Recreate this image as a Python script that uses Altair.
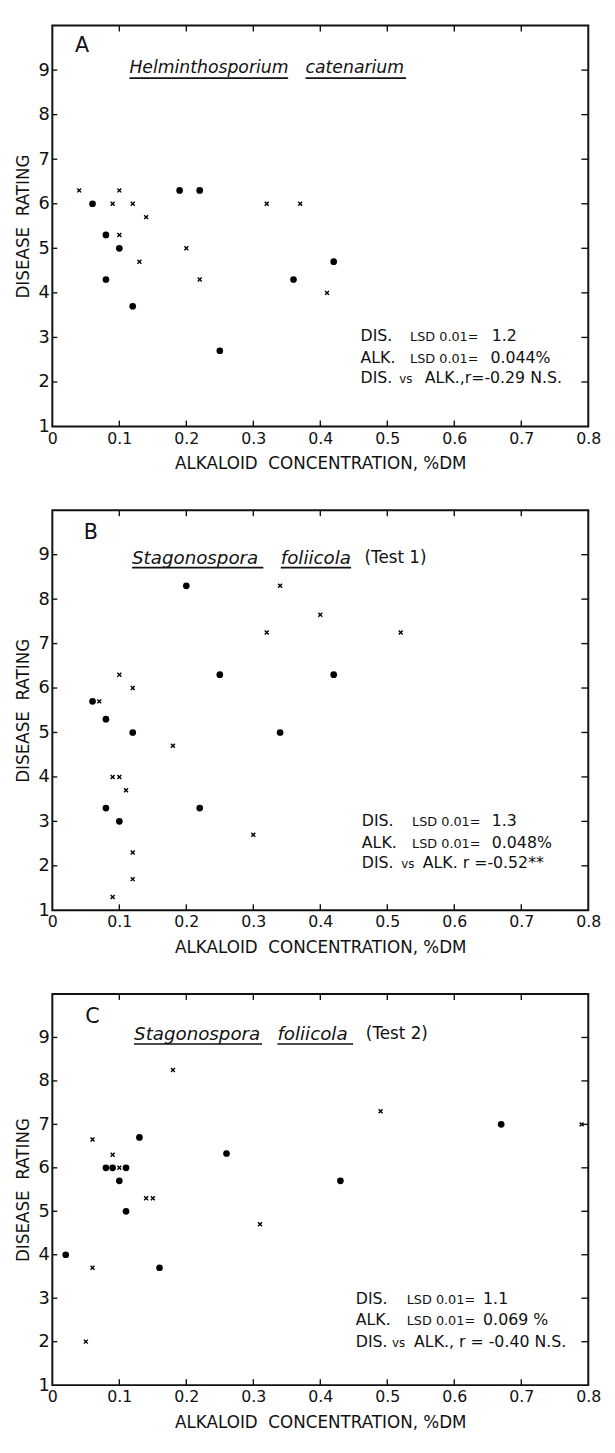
import altair as alt
import pandas as pd

FONT = "DejaVu Sans"
INK = "#111111"

# ---------------- data ----------------
X_LABELS = [0, 0.1, 0.2, 0.3, 0.4, 0.5, 0.6, 0.7, 0.8]
Y_LABELS = [1, 2, 3, 4, 5, 6, 7, 8, 9]
X_INNER_TICKS = [0.1, 0.2, 0.3, 0.4, 0.5, 0.6, 0.7]
Y_INNER_TICKS = [2, 3, 4, 5, 6, 7, 8, 9]

# Panel A  (Helminthosporium catenarium)
A_DOT_X = [0.06, 0.08, 0.10, 0.08, 0.12, 0.19, 0.22, 0.25, 0.36, 0.42]
A_DOT_Y = [6.0, 5.3, 5.0, 4.3, 3.7, 6.3, 6.3, 2.7, 4.3, 4.7]
A_CROSS_X = [0.04, 0.10, 0.09, 0.12, 0.14, 0.10, 0.20, 0.13, 0.22, 0.32, 0.37, 0.41]
A_CROSS_Y = [6.3, 6.3, 6.0, 6.0, 5.7, 5.3, 5.0, 4.7, 4.3, 6.0, 6.0, 4.0]

# Panel B  (Stagonospora foliicola, Test 1)
B_DOT_X = [0.20, 0.25, 0.42, 0.06, 0.08, 0.12, 0.34, 0.08, 0.10, 0.22]
B_DOT_Y = [8.3, 6.3, 6.3, 5.7, 5.3, 5.0, 5.0, 3.3, 3.0, 3.3]
B_CROSS_X = [0.34, 0.32, 0.40, 0.52, 0.10, 0.12, 0.07, 0.18, 0.09, 0.10, 0.11, 0.30, 0.12, 0.12, 0.09]
B_CROSS_Y = [8.3, 7.25, 7.65, 7.25, 6.3, 6.0, 5.7, 4.7, 4.0, 4.0, 3.7, 2.7, 2.3, 1.7, 1.3]

# Panel C  (Stagonospora foliicola, Test 2)
C_DOT_X = [0.02, 0.08, 0.09, 0.11, 0.10, 0.11, 0.13, 0.16, 0.26, 0.43, 0.67]
C_DOT_Y = [4.0, 6.0, 6.0, 6.0, 5.7, 5.0, 6.7, 3.7, 6.33, 5.7, 7.0]
C_CROSS_X = [0.18, 0.06, 0.09, 0.10, 0.14, 0.15, 0.31, 0.06, 0.05, 0.49, 0.79]
C_CROSS_Y = [8.25, 6.65, 6.3, 6.0, 5.3, 5.3, 4.7, 3.7, 2.0, 7.3, 7.0]

# statistics lines: (text, size-class) segments per line
A_STATS = [[("DIS.", "L"), ("LSD 0.01=", "S"), ("1.2", "L")],
           [("ALK.", "L"), ("LSD 0.01=", "S"), ("0.044%", "L")],
           [("DIS.", "L"), ("vs", "XS"), ("ALK.,r=-0.29 N.S.", "L")]]
B_STATS = [[("DIS.", "L"), ("LSD 0.01=", "S"), ("1.3", "L")],
           [("ALK.", "L"), ("LSD 0.01=", "S"), ("0.048%", "L")],
           [("DIS.", "L"), ("vs", "XS"), ("ALK. r =-0.52**", "L")]]
C_STATS = [[("DIS.", "L"), ("LSD 0.01=", "S"), ("1.1", "L")],
           [("ALK.", "L"), ("LSD 0.01=", "S"), ("0.069 %", "L")],
           [("DIS.", "L"), ("vs", "XS"), ("ALK., r = -0.40 N.S.", "L")]]

X_TITLE = "ALKALOID\u00a0\u00a0CONCENTRATION, %DM"
Y_TITLE = "DISEASE\u00a0\u00a0RATING"

# ---------------- encodings ----------------
XS = alt.Scale(domain=[0, 0.8], nice=False, zero=False)
YS = alt.Scale(domain=[1, 10], nice=False, zero=False)

XAX = alt.Axis(values=X_LABELS, labelExpr="datum.value == 0 ? '0' : format(datum.value, '.1f')",
               ticks=False, domain=False, grid=False, labelPadding=4, labelFontSize=16,
               labelFont=FONT, labelColor=INK, title=X_TITLE, titleFont=FONT, titleFontSize=17,
               titleFontWeight="normal", titleColor=INK, titlePadding=10, labelFlush=False)
YAX = alt.Axis(values=Y_LABELS, format="d", ticks=False, domain=False, grid=False,
               labelPadding=3, labelFontSize=18, labelFont=FONT, labelColor=INK,
               title=Y_TITLE, titleFont=FONT, titleFontSize=17, titleFontWeight="normal",
               titleColor=INK, titlePadding=6, labelFlush=False)

SIZES = {"L": 16, "S": 13, "XS": 12}


def X():
    return alt.X("x:Q", scale=XS, axis=XAX)


def Y():
    return alt.Y("y:Q", scale=YS, axis=YAX)


def text_layer(x, y, t, size, style="normal", baseline="middle"):
    return alt.Chart(pd.DataFrame({"x": [x], "y": [y], "t": [t]})).mark_text(
        align="left", baseline=baseline, font=FONT, fontSize=size, color=INK,
        fontStyle=style).encode(x=X(), y=Y(), text="t:N")


def panel(dot_x, dot_y, cross_x, cross_y, letter, letter_pos, words,
          stats, stats_x, stats_y, h):
    W = 544
    dots = alt.Chart(pd.DataFrame({"x": dot_x, "y": dot_y})).mark_circle(
        size=46, color="black", opacity=1).encode(x=X(), y=Y())
    crosses = alt.Chart(pd.DataFrame({"x": cross_x, "y": cross_y})).mark_point(
        shape="M-1,-1L1,1M-1,1L1,-1", size=16, strokeWidth=1.4, color="black",
        filled=False, opacity=1).encode(x=X(), y=Y())

    xt = pd.DataFrame({"x": X_INNER_TICKS})
    yt = pd.DataFrame({"y": Y_INNER_TICKS})
    tick_b = alt.Chart(xt).mark_rule(color=INK, strokeWidth=1.4).encode(
        x=X(), y=alt.value(h), y2=alt.value(h - 6))
    tick_t = alt.Chart(xt).mark_rule(color=INK, strokeWidth=1.4).encode(
        x=X(), y=alt.value(0), y2=alt.value(6))
    tick_l = alt.Chart(yt).mark_rule(color=INK, strokeWidth=1.4).encode(
        y=Y(), x=alt.value(0), x2=alt.value(5))
    tick_r = alt.Chart(yt).mark_rule(color=INK, strokeWidth=1.4).encode(
        y=Y(), x=alt.value(W), x2=alt.value(W - 7))

    layers = [tick_b, tick_t, tick_l, tick_r, dots, crosses,
              text_layer(letter_pos[0], letter_pos[1], letter, 21)]

    for (txt, x0, x1, yv, italic, fs) in words:
        layers.append(text_layer(x0, yv, txt, fs, "italic" if italic else "normal"))
        if italic:
            layers.append(alt.Chart(pd.DataFrame({"x": [x0], "x2": [x1], "y": [yv - 0.22]})).mark_rule(
                color=INK, strokeWidth=1.6).encode(x=X(), x2="x2:Q", y=Y()))

    for line, xs, yb in zip(stats, stats_x, stats_y):
        for (seg, cls), xv in zip(line, xs):
            layers.append(text_layer(xv, yb, seg, SIZES[cls], baseline="alphabetic"))
    return alt.layer(*layers).properties(width=W, height=h)


pA = panel(A_DOT_X, A_DOT_Y, A_CROSS_X, A_CROSS_Y, "A", (0.034, 9.53),
           [("Helminthosporium", 0.115, 0.352, 9.04, True, 17.5),
            ("catenarium", 0.378, 0.528, 9.04, True, 17.5)],
           A_STATS,
           [[0.460, 0.534, 0.656], [0.460, 0.534, 0.654], [0.460, 0.518, 0.556]],
           [2.91, 2.42, 1.98], 407)
pB = panel(B_DOT_X, B_DOT_Y, B_CROSS_X, B_CROSS_Y, "B", (0.047, 9.49),
           [("Stagonospora", 0.119, 0.315, 8.93, True, 18.5),
            ("foliicola", 0.341, 0.446, 8.93, True, 18.5),
            ("(Test 1)", 0.466, 0.56, 8.93, False, 17)],
           B_STATS,
           [[0.462, 0.537, 0.656], [0.462, 0.537, 0.656], [0.462, 0.521, 0.553]],
           [2.89, 2.40, 1.96], 406)
pC = panel(C_DOT_X, C_DOT_Y, C_CROSS_X, C_CROSS_Y, "C", (0.049, 9.46),
           [("Stagonospora", 0.122, 0.313, 9.07, True, 18.5),
            ("foliicola", 0.336, 0.449, 9.07, True, 18.5),
            ("(Test 2)", 0.468, 0.56, 9.07, False, 17)],
           C_STATS,
           [[0.453, 0.529, 0.643], [0.453, 0.529, 0.643], [0.453, 0.507, 0.540]],
           [2.86, 2.38, 1.88], 397)

chart = alt.vconcat(pA, pB, pC, spacing=36).configure(
    background="white",
    view=alt.ViewConfig(stroke=INK, strokeWidth=2),
)

chart.save("out.html", embed_options={"renderer": "svg", "actions": False})
